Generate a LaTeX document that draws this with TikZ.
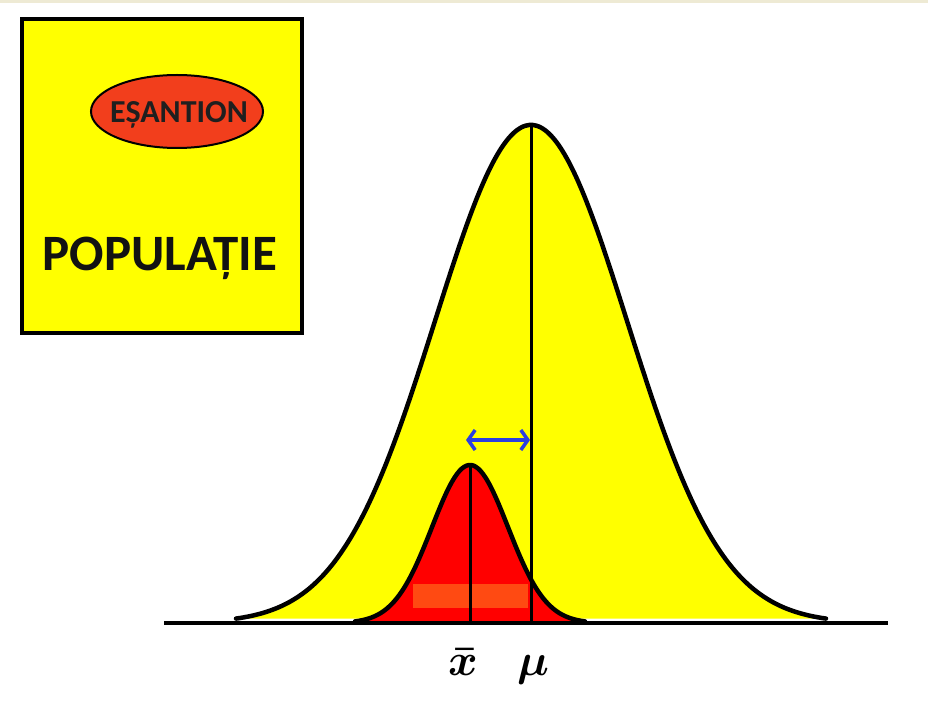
\documentclass[tikz,border=0pt]{standalone}
\usepackage{fontspec}
\usepackage{graphicx}
\newfontfamily\calibri{Carlito}
\usetikzlibrary{arrows.meta,shapes.geometric}
\definecolor{popyellow}{HTML}{FFFF00}
\definecolor{sampred}{HTML}{F23E1C}
\definecolor{curvered}{HTML}{FF0000}
\definecolor{stripe}{HTML}{FF4A12}
\definecolor{arrowblue}{HTML}{2B3FE0}
\definecolor{topstrip}{HTML}{EEEAD4}
\tikzset{
  curveline/.style={line width=4.5pt, line join=round, line cap=round},
  meanline/.style={line width=3pt},
  labeltext/.style={inner sep=0pt},
  gapsarrow/.style={arrowblue, line width=3.5pt, {Straight Barb[length=7pt,width=20pt]}-{Straight Barb[length=7pt,width=20pt]}}
}
\newcommand{\biglabel}[1]{\scalebox{4.5}{\boldmath$#1$}}
\begin{document}
\begin{tikzpicture}[x=1pt,y=-1pt]
\useasboundingbox (0,0) rectangle (928,703);
\fill[white] (0,0) rectangle (928,703);
\fill[topstrip] (0,0) rectangle (928,3);
% population box
\node[draw=black, fill=popyellow, line width=4pt, minimum width=280pt, minimum height=314pt, inner sep=0pt, anchor=north west] (pop) at (20,17) {};
\node[ellipse, draw=black, line width=2pt, fill=sampred, minimum width=172pt, minimum height=73pt, inner sep=0pt] (sample) at (177,111.5) {};
\node[anchor=base, inner sep=0pt, text=black!88, font=\calibri\bfseries\fontsize{32}{36}\selectfont] (sampletext) at (179,123) {EȘANTION};
\node[anchor=base, inner sep=0pt, text=black!93, font=\calibri\bfseries\fontsize{51}{56}\selectfont] (poptext) at (160,270) {POPULAȚIE};
% big curve
\fill[popyellow] plot[domain=236:826, samples=150, smooth] (\x, {623-498*exp(-0.5*((\x-531)/96)^2)}) -- cycle;
\draw[curveline] plot[domain=236:826, samples=150, smooth] (\x, {623-498*exp(-0.5*((\x-531)/96)^2)});
% small curve
\fill[curvered] plot[domain=355:585, samples=100, smooth] (\x, {623-158*exp(-0.5*((\x-470)/38)^2)}) -- cycle;
\fill[stripe] (413,584) rectangle (528,608);
\draw[curveline] plot[domain=355:585, samples=100, smooth] (\x, {623-158*exp(-0.5*((\x-470)/38)^2)});
% axis and mean lines
\coordinate (axL) at (164,623);
\coordinate (axR) at (888,623);
\coordinate (xbarTop) at (470,465);
\coordinate (xbarBot) at (470,623);
\coordinate (muTop) at (531,125);
\coordinate (muBot) at (531,623);
\draw[meanline] (xbarTop) -- (xbarBot);
\draw[meanline] (muTop) -- (muBot);
\draw[line width=4.5pt] (axL) -- (axR);
% difference arrow
\coordinate (arL) at (466,440);
\coordinate (arR) at (530,440);
\draw[gapsarrow] (arL) -- (arR);
% labels
\node[labeltext, anchor=base] (xbarlab) at (463,675) {\biglabel{\bar{x}}};
\node[labeltext, anchor=base] (mulab) at (533,675) {\biglabel{\mu}};
\end{tikzpicture}
\end{document}
